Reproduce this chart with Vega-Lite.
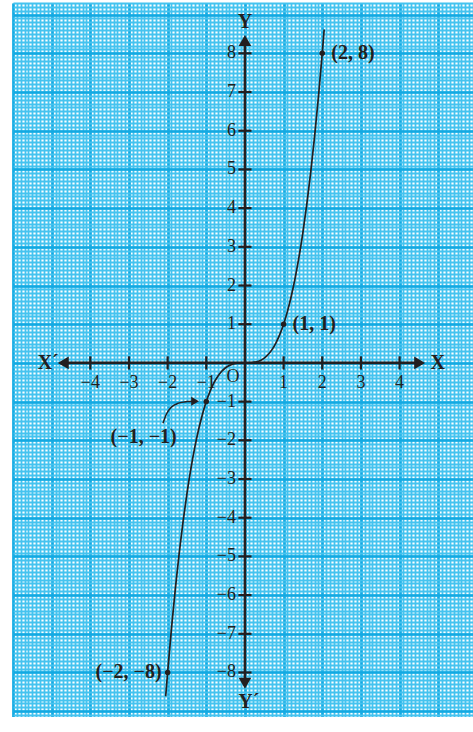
{
  "$schema": "https://vega.github.io/schema/vega-lite/v6.json",
  "width": 460,
  "height": 714,
  "autosize": {"type": "none"},
  "padding": {"left": 13, "top": 3, "right": 0, "bottom": 0},
  "background": "white",
  "config": {"view": {"stroke": null}, "text": {"font": "Liberation Serif", "color": "#231f20"}},
  "datasets": {
    "curve": [
      {"x": -2.05, "y": -8.615}, {"x": -2.0, "y": -8}, {"x": -1.9, "y": -6.859}, {"x": -1.8, "y": -5.832},
      {"x": -1.7, "y": -4.913}, {"x": -1.6, "y": -4.096}, {"x": -1.5, "y": -3.375}, {"x": -1.4, "y": -2.744},
      {"x": -1.3, "y": -2.197}, {"x": -1.2, "y": -1.728}, {"x": -1.1, "y": -1.331}, {"x": -1.0, "y": -1},
      {"x": -0.9, "y": -0.729}, {"x": -0.8, "y": -0.512}, {"x": -0.7, "y": -0.343}, {"x": -0.6, "y": -0.216},
      {"x": -0.5, "y": -0.125}, {"x": -0.4, "y": -0.064}, {"x": -0.3, "y": -0.027}, {"x": -0.2, "y": -0.008},
      {"x": -0.1, "y": -0.001}, {"x": 0, "y": 0}, {"x": 0.1, "y": 0.001}, {"x": 0.2, "y": 0.008},
      {"x": 0.3, "y": 0.027}, {"x": 0.4, "y": 0.064}, {"x": 0.5, "y": 0.125}, {"x": 0.6, "y": 0.216},
      {"x": 0.7, "y": 0.343}, {"x": 0.8, "y": 0.512}, {"x": 0.9, "y": 0.729}, {"x": 1.0, "y": 1},
      {"x": 1.1, "y": 1.331}, {"x": 1.2, "y": 1.728}, {"x": 1.3, "y": 2.197}, {"x": 1.4, "y": 2.744},
      {"x": 1.5, "y": 3.375}, {"x": 1.6, "y": 4.096}, {"x": 1.7, "y": 4.913}, {"x": 1.8, "y": 5.832},
      {"x": 1.9, "y": 6.859}, {"x": 2.0, "y": 8}, {"x": 2.05, "y": 8.615}
    ],
    "pts": [
      {"x": 2, "y": 8}, {"x": 1, "y": 1}, {"x": -1, "y": -1}, {"x": -2, "y": -8}
    ],
    "lblLeft": [
      {"x": 2, "y": 8, "label": "(2, 8)"}, {"x": 1, "y": 1, "label": "(1, 1)"}
    ],
    "lblRight": [
      {"x": -2, "y": -8, "label": "(−2, −8)"}
    ],
    "lblCenter": [
      {"x": -2.62, "y": -1.92, "label": "(−1, −1)"}
    ],
    "arrowCurve": [
      {"x": -2.12, "y": -1.56}, {"x": -2.03, "y": -1.32}, {"x": -1.9, "y": -1.14},
      {"x": -1.72, "y": -1.04}, {"x": -1.5, "y": -1.0}, {"x": -1.32, "y": -0.99}
    ],
    "xticks": [
      {"v": -4, "label": "−4"}, {"v": -3, "label": "−3"}, {"v": -2, "label": "−2"}, {"v": -1, "label": "−1"},
      {"v": 1, "label": "1"}, {"v": 2, "label": "2"}, {"v": 3, "label": "3"}, {"v": 4, "label": "4"}
    ],
    "yticks": [
      {"v": -8, "label": "−8"}, {"v": -7, "label": "−7"}, {"v": -6, "label": "−6"}, {"v": -5, "label": "−5"},
      {"v": -4, "label": "−4"}, {"v": -3, "label": "−3"}, {"v": -2, "label": "−2"}, {"v": -1, "label": "−1"},
      {"v": 1, "label": "1"}, {"v": 2, "label": "2"}, {"v": 3, "label": "3"}, {"v": 4, "label": "4"},
      {"v": 5, "label": "5"}, {"v": 6, "label": "6"}, {"v": 7, "label": "7"}, {"v": 8, "label": "8"}
    ],
    "axisNames": [
      {"x": 0, "y": 8.8, "label": "Y"}, {"x": 0.1, "y": -8.77, "label": "Y´"},
      {"x": -5.09, "y": 0, "label": "X´"}, {"x": 4.99, "y": 0, "label": "X"}
    ],
    "origin": [{"x": -0.31, "y": -0.37, "label": "O"}],
    "xAxisLine": [{"a": -4.7, "b": 4.52, "c": 0}],
    "yAxisLine": [{"a": -8.28, "b": 8.33, "c": 0}],
    "arrowsR": [{"x": 4.52, "y": 0}],
    "arrowsL": [{"x": -4.7, "y": 0}],
    "arrowsU": [{"x": 0, "y": 8.33}],
    "arrowsD": [{"x": 0, "y": -8.28}],
    "arrowTip": [{"x": -1.29, "y": -0.99}]
  },
  "layer": [
    {
      "data": {"name": "curve"},
      "mark": {"type": "point", "opacity": 0},
      "encoding": {
        "x": {"field": "x", "type": "quantitative", "scale": {"domain": [-6, 5.9], "nice": false, "zero": false},
          "axis": {"grid": true, "tickCount": 119, "gridColor": "#45c3ef", "gridWidth": 1.8, "gridOpacity": 1, "domain": false, "ticks": false, "labels": false, "title": null}},
        "y": {"field": "y", "type": "quantitative", "scale": {"domain": [-9.15, 9.3], "nice": false, "zero": false},
          "axis": {"grid": true, "tickCount": 185, "gridColor": "#45c3ef", "gridWidth": 1.8, "gridOpacity": 1, "domain": false, "ticks": false, "labels": false, "title": null}}
      }
    },
    {
      "data": {"name": "curve"},
      "mark": {"type": "point", "opacity": 0},
      "encoding": {
        "x": {"field": "x", "type": "quantitative",
          "axis": {"grid": true, "values": [-6, -5, -4, -3, -2, -1, 0, 1, 2, 3, 4, 5], "gridColor": "#12a9e2", "gridWidth": 2.6, "gridOpacity": 1, "domain": false, "ticks": false, "labels": false, "title": null}},
        "y": {"field": "y", "type": "quantitative",
          "axis": {"grid": true, "values": [-9, -8, -7, -6, -5, -4, -3, -2, -1, 0, 1, 2, 3, 4, 5, 6, 7, 8, 9], "gridColor": "#12a9e2", "gridWidth": 2.6, "gridOpacity": 1, "domain": false, "ticks": false, "labels": false, "title": null}}
      }
    },
    {
      "data": {"name": "xAxisLine"},
      "mark": {"type": "rule", "color": "#231f20", "strokeWidth": 2.6},
      "encoding": {
        "x": {"field": "a", "type": "quantitative", "axis": null},
        "x2": {"field": "b"},
        "y": {"field": "c", "type": "quantitative", "axis": null}
      }
    },
    {
      "data": {"name": "yAxisLine"},
      "mark": {"type": "rule", "color": "#231f20", "strokeWidth": 2.6},
      "encoding": {
        "y": {"field": "a", "type": "quantitative", "axis": null},
        "y2": {"field": "b"},
        "x": {"field": "c", "type": "quantitative", "axis": null}
      }
    },
    {
      "data": {"name": "xticks"},
      "mark": {"type": "rule", "color": "#231f20", "strokeWidth": 2.2},
      "encoding": {
        "x": {"field": "v", "type": "quantitative", "axis": null},
        "y": {"datum": -0.17, "type": "quantitative", "axis": null},
        "y2": {"datum": 0.17}
      }
    },
    {
      "data": {"name": "yticks"},
      "mark": {"type": "rule", "color": "#231f20", "strokeWidth": 2.2},
      "encoding": {
        "y": {"field": "v", "type": "quantitative", "axis": null},
        "x": {"datum": -0.17, "type": "quantitative", "axis": null},
        "x2": {"datum": 0.17}
      }
    },
    {
      "data": {"name": "arrowsR"},
      "mark": {"type": "point", "shape": "triangle-right", "filled": true, "size": 160, "color": "#231f20", "opacity": 1},
      "encoding": {"x": {"field": "x", "type": "quantitative", "axis": null}, "y": {"field": "y", "type": "quantitative", "axis": null}}
    },
    {
      "data": {"name": "arrowsL"},
      "mark": {"type": "point", "shape": "triangle-left", "filled": true, "size": 160, "color": "#231f20", "opacity": 1},
      "encoding": {"x": {"field": "x", "type": "quantitative", "axis": null}, "y": {"field": "y", "type": "quantitative", "axis": null}}
    },
    {
      "data": {"name": "arrowsU"},
      "mark": {"type": "point", "shape": "triangle-up", "filled": true, "size": 160, "color": "#231f20", "opacity": 1},
      "encoding": {"x": {"field": "x", "type": "quantitative", "axis": null}, "y": {"field": "y", "type": "quantitative", "axis": null}}
    },
    {
      "data": {"name": "arrowsD"},
      "mark": {"type": "point", "shape": "triangle-down", "filled": true, "size": 160, "color": "#231f20", "opacity": 1},
      "encoding": {"x": {"field": "x", "type": "quantitative", "axis": null}, "y": {"field": "y", "type": "quantitative", "axis": null}}
    },
    {
      "data": {"name": "curve"},
      "mark": {"type": "line", "color": "#231f20", "strokeWidth": 1.7, "interpolate": "monotone"},
      "encoding": {"x": {"field": "x", "type": "quantitative", "axis": null}, "y": {"field": "y", "type": "quantitative", "axis": null}}
    },
    {
      "data": {"name": "arrowCurve"},
      "mark": {"type": "line", "color": "#231f20", "strokeWidth": 1.5, "interpolate": "monotone"},
      "encoding": {"x": {"field": "x", "type": "quantitative", "axis": null}, "y": {"field": "y", "type": "quantitative", "axis": null}}
    },
    {
      "data": {"name": "arrowTip"},
      "mark": {"type": "point", "shape": "triangle-right", "filled": true, "size": 80, "color": "#231f20", "opacity": 1},
      "encoding": {"x": {"field": "x", "type": "quantitative", "axis": null}, "y": {"field": "y", "type": "quantitative", "axis": null}}
    },
    {
      "data": {"name": "pts"},
      "mark": {"type": "point", "shape": "circle", "filled": true, "size": 30, "color": "#231f20", "opacity": 1},
      "encoding": {"x": {"field": "x", "type": "quantitative", "axis": null}, "y": {"field": "y", "type": "quantitative", "axis": null}}
    },
    {
      "data": {"name": "xticks"},
      "mark": {"type": "text", "fontSize": 18, "baseline": "middle", "align": "center", "dy": 20},
      "encoding": {
        "x": {"field": "v", "type": "quantitative", "axis": null},
        "y": {"datum": 0, "type": "quantitative", "axis": null},
        "text": {"field": "label"}
      }
    },
    {
      "data": {"name": "yticks"},
      "mark": {"type": "text", "fontSize": 18, "baseline": "middle", "align": "right", "dx": -9},
      "encoding": {
        "y": {"field": "v", "type": "quantitative", "axis": null},
        "x": {"datum": 0, "type": "quantitative", "axis": null},
        "text": {"field": "label"}
      }
    },
    {
      "data": {"name": "lblLeft"},
      "mark": {"type": "text", "fontSize": 20, "fontWeight": "bold", "baseline": "middle", "align": "left", "dx": 9},
      "encoding": {"x": {"field": "x", "type": "quantitative", "axis": null}, "y": {"field": "y", "type": "quantitative", "axis": null}, "text": {"field": "label"}}
    },
    {
      "data": {"name": "lblRight"},
      "mark": {"type": "text", "fontSize": 20, "fontWeight": "bold", "baseline": "middle", "align": "right", "dx": -6},
      "encoding": {"x": {"field": "x", "type": "quantitative", "axis": null}, "y": {"field": "y", "type": "quantitative", "axis": null}, "text": {"field": "label"}}
    },
    {
      "data": {"name": "lblCenter"},
      "mark": {"type": "text", "fontSize": 20, "fontWeight": "bold", "baseline": "middle", "align": "center"},
      "encoding": {"x": {"field": "x", "type": "quantitative", "axis": null}, "y": {"field": "y", "type": "quantitative", "axis": null}, "text": {"field": "label"}}
    },
    {
      "data": {"name": "axisNames"},
      "mark": {"type": "text", "fontSize": 20, "fontWeight": "bold", "baseline": "middle", "align": "center"},
      "encoding": {"x": {"field": "x", "type": "quantitative", "axis": null}, "y": {"field": "y", "type": "quantitative", "axis": null}, "text": {"field": "label"}}
    },
    {
      "data": {"name": "origin"},
      "mark": {"type": "text", "fontSize": 18, "baseline": "middle", "align": "center"},
      "encoding": {"x": {"field": "x", "type": "quantitative", "axis": null}, "y": {"field": "y", "type": "quantitative", "axis": null}, "text": {"field": "label"}}
    }
  ],
  "resolve": {"axis": {"x": "independent", "y": "independent"}}
}
